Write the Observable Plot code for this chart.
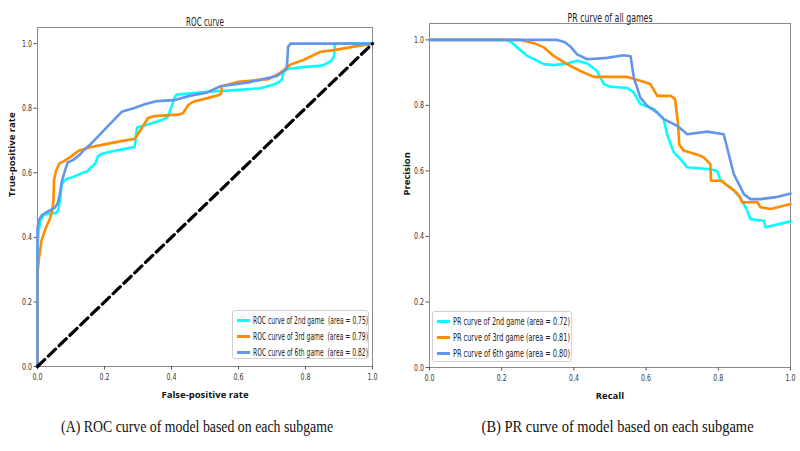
<!DOCTYPE html>
<html>
<head>
<meta charset="utf-8">
<script src="https://cdn.jsdelivr.net/npm/d3@7"></script>
<script src="https://cdn.jsdelivr.net/npm/@observablehq/plot@0.6"></script>
<style>
  html, body { margin: 0; padding: 0; background: #fff; }
  #root { position: relative; width: 800px; height: 451px; overflow: hidden; background: #fff; }
  .panel { position: absolute; top: 0; }
  .legend { position: absolute; background: rgba(255,255,255,0.85); border: 1px solid #d0d0d0; border-radius: 3px;
            font-family: "DejaVu Sans", sans-serif; font-size: 10.5px; color: #222; box-sizing: border-box; padding: 2px 4px; }
  .row { position: relative; height: 16px; white-space: pre; }
  .sw { position: absolute; left: 0; top: 6px; width: 13px; height: 3px; }
  .lt { position: absolute; left: 16px; top: 1px; transform-origin: left center; }
  .cap { position: absolute; font-family: "Liberation Serif", "DejaVu Serif", serif; font-size: 17px; color: #111; white-space: nowrap; transform-origin: center; }
</style>
</head>
<body>
<div id="root"></div>
<script>
// ---------- data ----------
const ticks = [0, 0.2, 0.4, 0.6, 0.8, 1.0];
const seriesColors = ["#00ffff", "#ff8c00", "#6495ed"];
const rocNames = ["ROC curve of 2nd game  (area = 0.75)", "ROC curve of 3rd game  (area = 0.79)", "ROC curve of 6th game  (area = 0.82)"];
const prNames = ["PR curve of 2nd game (area = 0.72)", "PR curve of 3rd game (area = 0.81)", "PR curve of 6th game (area = 0.80)"];

const roc2nd = [[0,0],[0,0.36],[0.003,0.42],[0.01,0.455],[0.02,0.47],[0.04,0.475],[0.055,0.475],[0.062,0.485],[0.068,0.52],[0.072,0.565],[0.085,0.58],[0.1,0.585],[0.118,0.592],[0.135,0.6],[0.148,0.604],[0.158,0.615],[0.172,0.628],[0.18,0.65],[0.19,0.658],[0.23,0.668],[0.28,0.678],[0.29,0.68],[0.297,0.74],[0.337,0.752],[0.375,0.765],[0.39,0.775],[0.41,0.835],[0.415,0.842],[0.5,0.85],[0.59,0.856],[0.665,0.862],[0.7,0.872],[0.72,0.88],[0.73,0.89],[0.735,0.915],[0.75,0.922],[0.8,0.928],[0.85,0.932],[0.875,0.945],[0.885,0.96],[0.888,1.0],[1,1]];
const roc3rd = [[0,0],[0,0.29],[0.005,0.34],[0.012,0.39],[0.025,0.43],[0.038,0.46],[0.045,0.49],[0.048,0.52],[0.049,0.575],[0.055,0.605],[0.065,0.628],[0.08,0.637],[0.1,0.65],[0.123,0.668],[0.16,0.68],[0.2,0.688],[0.25,0.698],[0.29,0.705],[0.3,0.72],[0.315,0.745],[0.33,0.77],[0.35,0.776],[0.42,0.78],[0.435,0.785],[0.45,0.81],[0.465,0.82],[0.51,0.832],[0.54,0.84],[0.548,0.845],[0.55,0.868],[0.6,0.882],[0.69,0.89],[0.725,0.91],[0.755,0.935],[0.795,0.95],[0.845,0.975],[0.885,0.98],[0.94,0.99],[1,1]];
const roc6th = [[0,0],[0,0.43],[0.005,0.455],[0.014,0.47],[0.03,0.48],[0.05,0.49],[0.06,0.505],[0.066,0.53],[0.072,0.57],[0.08,0.6],[0.09,0.632],[0.107,0.64],[0.125,0.655],[0.14,0.672],[0.158,0.688],[0.178,0.71],[0.215,0.75],[0.253,0.79],[0.287,0.8],[0.32,0.812],[0.357,0.822],[0.407,0.825],[0.457,0.839],[0.507,0.849],[0.546,0.868],[0.63,0.88],[0.715,0.9],[0.742,0.92],[0.745,0.935],[0.748,0.99],[0.755,1.0],[1,1]];
const chance = [[0,0],[1,1]];

const pr2nd = [[0,1],[0.215,1],[0.23,0.99],[0.243,0.977],[0.271,0.951],[0.317,0.926],[0.344,0.923],[0.381,0.928],[0.409,0.936],[0.437,0.928],[0.464,0.905],[0.483,0.865],[0.501,0.857],[0.548,0.853],[0.566,0.839],[0.584,0.804],[0.621,0.789],[0.649,0.758],[0.658,0.712],[0.677,0.656],[0.695,0.636],[0.714,0.611],[0.778,0.605],[0.797,0.6],[0.806,0.57],[0.834,0.55],[0.861,0.519],[0.88,0.479],[0.889,0.453],[0.926,0.448],[0.931,0.428],[1,0.446]];
const pr3rd = [[0,1],[0.252,1],[0.289,0.99],[0.317,0.977],[0.344,0.951],[0.381,0.926],[0.418,0.905],[0.455,0.887],[0.548,0.887],[0.584,0.875],[0.612,0.865],[0.631,0.829],[0.668,0.829],[0.68,0.82],[0.688,0.75],[0.692,0.68],[0.704,0.662],[0.751,0.646],[0.76,0.641],[0.778,0.621],[0.78,0.57],[0.81,0.57],[0.825,0.555],[0.845,0.54],[0.86,0.52],[0.866,0.504],[0.908,0.505],[0.917,0.489],[0.945,0.484],[1,0.499]];
const pr6th = [[0,1],[0.354,1],[0.375,0.993],[0.39,0.98],[0.409,0.956],[0.437,0.941],[0.492,0.945],[0.538,0.953],[0.557,0.95],[0.566,0.885],[0.584,0.824],[0.603,0.799],[0.631,0.778],[0.649,0.758],[0.686,0.738],[0.714,0.712],[0.769,0.72],[0.815,0.712],[0.829,0.651],[0.843,0.59],[0.857,0.56],[0.871,0.529],[0.889,0.514],[0.917,0.514],[0.96,0.52],[1,0.531]];

// ---------- drawing ----------
const root = document.getElementById("root");
const tickFont = '"DejaVu Sans", sans-serif';
const labelFont = '"Open Sans", "Noto Sans", sans-serif';

// horizontally condense an SVG text element around its own anchor point
function condense(t, k) {
  const xa = t.getAttribute("x");
  const ax = xa && !/[a-z%]$/i.test(xa) ? parseFloat(xa) : 0;
  const tr = t.getAttribute("transform") || "";
  t.setAttribute("transform", `${tr} translate(${ax},0) scale(${k},1) translate(${-ax},0)`.trim());
}

function panel({left, series, title, titleWidth, xLabel, yLabel, mL, mR, mT, mB, yLabelDx, dashed}) {
  const lineMarks = series.map((s, i) => Plot.line(s, {x: d => d[0], y: d => d[1], stroke: seriesColors[i], strokeWidth: 2.6, strokeLinejoin: "round"}));
  const marks = [
    Plot.frame({stroke: "#8a8a8a", strokeWidth: 1}),
    Plot.axisX({ticks, tickFormat: d3.format(".1f"), tickSize: 3.5, tickPadding: 3, label: null, fontSize: 9.5, fill: "#333", stroke: "#555"}),
    Plot.axisY({ticks, tickFormat: d3.format(".1f"), tickSize: 3.5, tickPadding: 2, label: null, fontSize: 9.5, fill: "#333", stroke: "#555"}),
    ...lineMarks,
    ...(dashed ? [Plot.line(dashed, {x: d => d[0], y: d => d[1], stroke: "#000", strokeWidth: 3.2, strokeDasharray: "10,5"})] : []),
    Plot.text([title], {frameAnchor: "top", dy: -10, text: d => d, fontSize: 12, fill: "#222", fontFamily: tickFont}),
    Plot.text([xLabel], {frameAnchor: "bottom", dy: 31, text: d => d, fontSize: 9.5, fontWeight: "bold", fill: "#111", fontFamily: labelFont}),
    Plot.text([yLabel], {frameAnchor: "left", dx: yLabelDx, rotate: -90, text: d => d, fontSize: 9.5, fontWeight: "bold", fill: "#111", fontFamily: labelFont})
  ];
  const p = Plot.plot({
    width: 400, height: 410,
    marginLeft: mL, marginRight: mR, marginTop: mT, marginBottom: mB,
    x: {domain: [0, 1]},
    y: {domain: [0, 1.05]},
    style: {fontFamily: tickFont, fontSize: "9.5px", background: "transparent", overflow: "visible"},
    marks
  });
  p.classList.add("panel");
  p.style.left = left + "px";
  root.appendChild(p);
  p.querySelectorAll('g[aria-label$="tick label"] text').forEach(t => condense(t, 0.66));
  p.querySelectorAll('text').forEach(t => {
    if (t.textContent === title) {
      const w = t.getComputedTextLength();
      condense(t, titleWidth / w);
    }
  });
}

panel({left: 0, series: [roc2nd, roc3rd, roc6th], title: "ROC curve", titleWidth: 38, xLabel: "False-positive rate", yLabel: "True-positive rate",
  mL: 37, mR: 28, mT: 27, mB: 44, yLabelDx: -26, dashed: chance});

panel({left: 400, series: [pr2nd, pr3rd, pr6th], title: "PR curve of all games", titleWidth: 85, xLabel: "Recall", yLabel: "Precision",
  mL: 29, mR: 10, mT: 23, mB: 43, yLabelDx: -23});

function legend(names, left, top, width, height, textWidth) {
  const div = document.createElement("div");
  div.className = "legend";
  Object.assign(div.style, {left: left + "px", top: top + "px", width: width + "px", height: height + "px"});
  root.appendChild(div);
  names.forEach((n, i) => {
    const row = document.createElement("div");
    row.className = "row";
    const sw = document.createElement("span");
    sw.className = "sw";
    sw.style.background = seriesColors[i];
    const tx = document.createElement("span");
    tx.className = "lt";
    tx.textContent = n;
    row.appendChild(sw); row.appendChild(tx);
    div.appendChild(row);
    const w = tx.getBoundingClientRect().width;
    tx.style.transform = `scaleX(${textWidth / w})`;
  });
}
legend(rocNames, 232, 310, 137, 49, 115);
legend(prNames, 432, 311, 140, 51, 117);

function caption(text, cx, top, w) {
  const d = document.createElement("div");
  d.className = "cap";
  d.textContent = text;
  root.appendChild(d);
  const natural = d.getBoundingClientRect().width;
  d.style.left = (cx - natural / 2) + "px";
  d.style.top = top + "px";
  d.style.transform = `scaleX(${w / natural})`;
}
caption("(A) ROC curve of model based on each subgame", 197, 417, 272);
caption("(B) PR curve of model based on each subgame", 618, 417, 272);
</script>
</body>
</html>
